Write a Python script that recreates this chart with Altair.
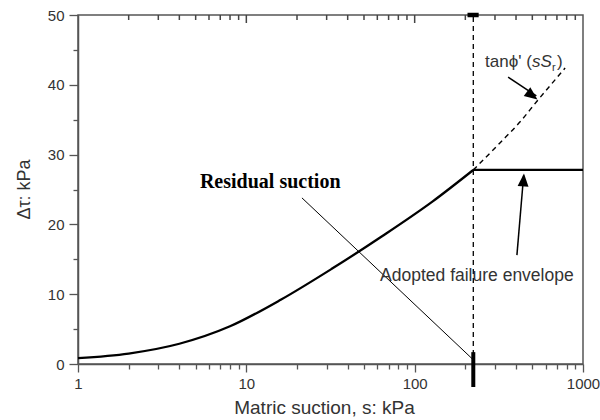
import altair as alt
import pandas as pd

# ---- data ----
suction = [1, 2, 4, 8, 16, 32, 64, 128, 223]
shear = [0.85, 1.5, 2.9, 5.4, 9.2, 13.6, 18.3, 23.3, 27.8]
plateau_s = [223, 1000]
plateau_tau = [27.8, 27.8]
ext_s = [223, 322, 423, 531, 783]
ext_tau = [27.8, 31.7, 34.7, 37.6, 42.4]
residual_s = 223
x_tick_values = [1, 2, 3, 4, 5, 6, 7, 8, 9, 10, 20, 30, 40, 50, 60, 70, 80, 90,
                 100, 200, 300, 400, 500, 600, 700, 800, 900, 1000]
x_major = [1, 10, 100, 1000]
y_tick_values = [0, 5, 10, 15, 20, 25, 30, 35, 40, 45, 50]

FONT = "Liberation Sans"
INK = "#333333"
AX = "#555555"

xscale = alt.Scale(type="log", domain=[1, 1000], nice=False)
yscale = alt.Scale(domain=[0, 50], nice=False)

xaxis = alt.Axis(
    values=x_tick_values,
    format="d",
    labelExpr="indexof([1,10,100,1000], datum.value) >= 0 ? datum.label : ''",
    tickSize={"condition": {"test": "indexof([1,10,100,1000], datum.value) >= 0", "value": 8}, "value": 5},
    labelFlush=False,
    labelOverlap=False,
    labelPadding=4,
    grid=False,
    title="Matric suction, s: kPa",
    titleX=246,
    titleY=49,
    titleBaseline="alphabetic",
    titleAlign="center",
    titleFontSize=19,
)
yaxis = alt.Axis(
    values=y_tick_values,
    labelExpr="datum.value % 10 === 0 ? datum.label : ''",
    tickSize={"condition": {"test": "datum.value % 10 === 0", "value": 9}, "value": 5},
    labelFlush=False,
    labelOverlap=False,
    labelPadding=5,
    grid=False,
    title="Δτ: kPa",
    titleAngle=-90,
    titleX=-49,
    titleY=174,
    titleAlign="center",
    titleBaseline="alphabetic",
    titleFontSize=18,
)

X = alt.X("s:Q", scale=xscale, axis=xaxis)
Y = alt.Y("tau:Q", scale=yscale, axis=yaxis)

curve_df = pd.DataFrame({"s": suction, "tau": shear})
plateau_df = pd.DataFrame({"s": plateau_s, "tau": plateau_tau})
ext_df = pd.DataFrame({"s": ext_s, "tau": ext_tau})
vline_df = pd.DataFrame({"s": [residual_s, residual_s], "tau": [0, 50]})

curve = alt.Chart(curve_df).mark_line(color="black", strokeWidth=2.3, interpolate="monotone").encode(x=X, y=Y)
plateau = alt.Chart(plateau_df).mark_line(color="black", strokeWidth=2.3).encode(x=X, y=Y)
ext = alt.Chart(ext_df).mark_line(color="black", strokeWidth=1.4, strokeDash=[5, 4], interpolate="monotone").encode(x=X, y=Y)
vline = alt.Chart(vline_df).mark_line(color="black", strokeWidth=1.3, strokeDash=[5, 4]).encode(x=X, y=Y)

# inward ticks on the top frame
top_minor = [v for v in x_tick_values if v not in x_major]
top_minor_df = pd.DataFrame({"s": top_minor, "tau": [50] * len(top_minor)})
top_major_df = pd.DataFrame({"s": [10, 100], "tau": [50, 50]})
top_minor_ticks = alt.Chart(top_minor_df).mark_rule(color="#444444", strokeWidth=1.5).encode(
    x=X, y=Y, y2=alt.value(5))
top_major_ticks = alt.Chart(top_major_df).mark_rule(color="#444444", strokeWidth=1.5).encode(
    x=X, y=Y, y2=alt.value(8))

# residual suction markers
bar_df = pd.DataFrame({"s": [residual_s], "tau": [1.7]})
bottom_bar = alt.Chart(bar_df).mark_rule(color="black", strokeWidth=4, clip=False).encode(
    x=X, y=Y, y2=alt.value(372))
top_mark_df = pd.DataFrame({"s": [206], "s2": [240], "tau": [50]})
top_mark = alt.Chart(top_mark_df).mark_rule(color="black", strokeWidth=4.5, clip=False).encode(
    x=X, x2="s2:Q", y=Y)

# annotation anchors (data units)
leader_df = pd.DataFrame({"s": [21.4], "s2": [residual_s], "tau": [23.8], "tau2": [0.6]})
leader = alt.Chart(leader_df).mark_rule(color="black", strokeWidth=1).encode(
    x=X, x2="s2:Q", y=Y, y2="tau2:Q")

arrow_df = pd.DataFrame({
    "s": [359, 405], "s2": [528, 444],
    "tau": [41.1, 15.6], "tau2": [38.4, 27.0],
})
arrow_lines = alt.Chart(arrow_df).mark_rule(color="black", strokeWidth=1.5).encode(
    x=X, x2="s2:Q", y=Y, y2="tau2:Q")

head_df = pd.DataFrame({"s": [536, 446], "tau": [37.9, 27.3], "ang": [127, 4]})
heads = alt.Chart(head_df).mark_point(
    shape="M0,0L-0.42,1L0.42,1Z", filled=True, color="black", opacity=1, size=676, strokeWidth=0
).encode(x=X, y=Y, angle=alt.Angle("ang:Q", scale=None))

txt_df = pd.DataFrame({"s": [62.3], "tau": [12.6], "t": ["Adopted failure envelope"]})
txt_adopted = alt.Chart(txt_df).mark_text(
    align="left", baseline="middle", font=FONT, fontSize=17.5, color=INK
).encode(x=X, y=Y, text="t:N")

res_df = pd.DataFrame({"s": [5.3], "tau": [26.1], "t": ["Residual suction"]})
txt_res = alt.Chart(res_df).mark_text(
    align="left", baseline="middle", font="Liberation Serif", fontWeight="bold", fontSize=20, color="black"
).encode(x=X, y=Y, text="t:N")

tan_anchor_s = 262
tan_anchor_tau = 43.2
tan_a = alt.Chart(pd.DataFrame({"s": [tan_anchor_s], "tau": [tan_anchor_tau], "t": ["tanϕ' ("]})).mark_text(
    align="left", baseline="middle", font=FONT, fontSize=17, color=INK
).encode(x=X, y=Y, text="t:N")
tan_b = alt.Chart(pd.DataFrame({"s": [tan_anchor_s], "tau": [tan_anchor_tau], "t": ["sS"]})).mark_text(
    align="left", baseline="middle", font=FONT, fontSize=17, fontStyle="italic", color=INK, dx=47
).encode(x=X, y=Y, text="t:N")
tan_c = alt.Chart(pd.DataFrame({"s": [tan_anchor_s], "tau": [tan_anchor_tau], "t": ["r"]})).mark_text(
    align="left", baseline="middle", font=FONT, fontSize=11, color=INK, dx=67, dy=6
).encode(x=X, y=Y, text="t:N")
tan_d = alt.Chart(pd.DataFrame({"s": [tan_anchor_s], "tau": [tan_anchor_tau], "t": [")"]})).mark_text(
    align="left", baseline="middle", font=FONT, fontSize=17, color=INK, dx=72
).encode(x=X, y=Y, text="t:N")

chart = alt.layer(
    vline, ext, curve, plateau,
    leader, arrow_lines, heads, bottom_bar,
    txt_adopted, txt_res, tan_a, tan_b, tan_c, tan_d,
    top_minor_ticks, top_major_ticks, top_mark,
).properties(
    width=505, height=349,
    autosize=alt.AutoSizeParams(type="none"),
    padding={"left": 78, "top": 15, "right": 17, "bottom": 56},
    background="white",
).configure_view(
    stroke=AX, strokeWidth=1.5
).configure_axis(
    labelFont=FONT, titleFont=FONT, labelFontSize=15, labelColor=INK, titleColor=INK,
    titleFontWeight="normal", domainColor=AX, domainWidth=1.5, tickColor=AX, tickWidth=1.3,
)

chart.save("out.html", embed_options={"renderer": "svg", "actions": False})
